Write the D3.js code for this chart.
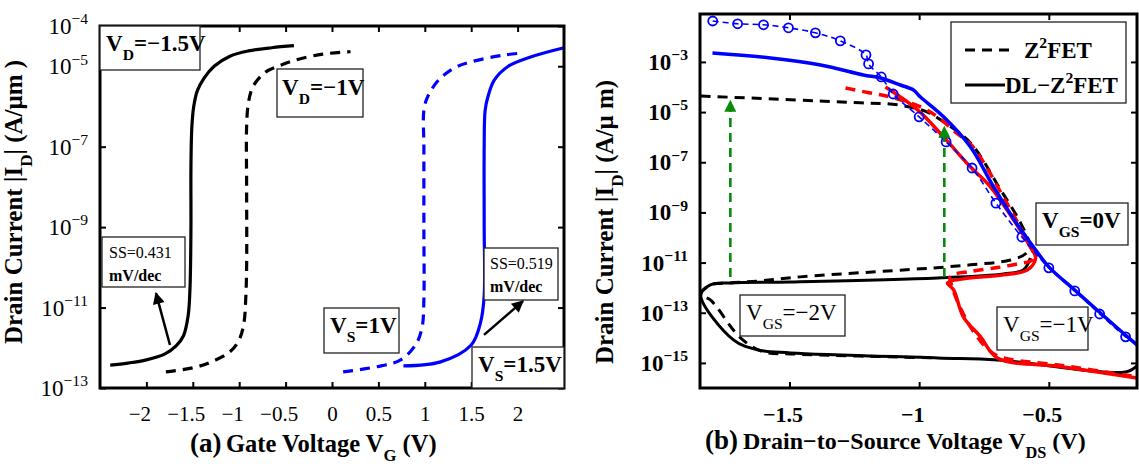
<!DOCTYPE html>
<html>
<head>
<meta charset="utf-8">
<script src="https://cdn.jsdelivr.net/npm/d3@7"></script>
<style>
  body { margin: 0; background: #fff; }
  svg text { font-family: "Liberation Serif", "Times New Roman", serif; fill: #000; }
</style>
</head>
<body>
<svg id="chart" width="1139" height="472"></svg>
<script>

// ---- panel (a) : transfer curves, [VG (V), log10 |ID| (A/um)] ----
var vgTicks = [-2, -1.5, -1, -0.5, 0, 0.5, 1, 1.5, 2];
var idExpA = [-13, -11, -9, -7, -5, -4];

var vd15 = [[-2.39,-12.43],[-2.2,-12.38],[-2.0,-12.3],[-1.8,-12.15],[-1.68,-11.95],[-1.6,-11.7],[-1.55,-11.2],
  [-1.53,-10.5],[-1.52,-9],[-1.52,-7.5],[-1.51,-6.5],[-1.49,-6.0],[-1.45,-5.6],[-1.38,-5.3],[-1.27,-5.0],
  [-1.1,-4.75],[-0.9,-4.62],[-0.65,-4.54],[-0.41,-4.49]];
var vd1 = [[-1.79,-12.6],[-1.5,-12.5],[-1.3,-12.35],[-1.1,-12.1],[-1.0,-11.8],[-0.95,-11.4],[-0.93,-10.8],
  [-0.92,-10],[-0.92,-8],[-0.92,-6.5],[-0.9,-5.9],[-0.85,-5.5],[-0.72,-5.15],[-0.58,-5.0],[-0.4,-4.85],
  [-0.1,-4.7],[0.2,-4.64]];
var vs1 = [[0.12,-12.6],[0.53,-12.45],[0.74,-12.3],[0.9,-11.93],[0.97,-11.5],[0.99,-10.8],[0.99,-9],
  [0.99,-7],[0.99,-6.1],[1.03,-5.76],[1.15,-5.34],[1.32,-5.04],[1.5,-4.89],[1.86,-4.72],[2.07,-4.67]];
var vs15 = [[0.77,-12.45],[1.17,-12.35],[1.5,-11.93],[1.6,-11.38],[1.64,-10.7],[1.64,-9],[1.64,-7],
  [1.65,-6.1],[1.68,-5.76],[1.75,-5.34],[1.9,-5.0],[2.14,-4.77],[2.5,-4.54]];

// ---- panel (b) : output curves, [VDS (V), log10 |ID| (A/um)] ----
var vdsTicks = [-1.5, -1, -0.5];
var idExpB = [-15, -13, -11, -9, -7, -5, -3];

var z2Gs0 = [[-1.796,-1.37],[-1.70,-1.48],[-1.60,-1.52],[-1.504,-1.64],[-1.40,-1.84],[-1.304,-2.16],
  [-1.205,-2.72],[-1.195,-3.08],[-1.146,-3.60],[-1.10,-4.28],[-1.0,-5.19],[-0.896,-6.19],[-0.796,-7.23],
  [-0.704,-8.63],[-0.604,-9.98],[-0.5,-11.21],[-0.40,-12.13],[-0.304,-13.05],[-0.204,-13.96]];
var dlGs0 = [[-1.797,-2.64],[-1.573,-2.84],[-1.38,-3.12],[-1.215,-3.52],[-1.149,-3.64],[-1.072,-3.92],
  [-1.022,-4.12],[-0.995,-4.40],[-0.906,-5.19],[-0.802,-6.39],[-0.713,-7.98],[-0.62,-9.5],[-0.559,-10.38],
  [-0.5,-11.17],[-0.4,-12.1],[-0.3,-13.02],[-0.2,-13.93],[-0.16,-14.28]];
var z2Gs1 = [[-1.284,-4.04],[-1.188,-4.24],[-1.11,-4.40],[-0.995,-4.79],[-0.929,-5.19],[-0.86,-5.8],
  [-0.80,-6.3],[-0.74,-7.2],[-0.68,-8.3],[-0.62,-9.4],[-0.58,-10.2],[-0.56,-10.6],[-0.565,-10.9],
  [-0.621,-11.05],[-0.698,-11.2],[-0.80,-11.35],[-0.88,-11.55],[-0.875,-11.9],[-0.85,-12.6],
  [-0.80,-13.6],[-0.74,-14.4],[-0.69,-14.75],[-0.45,-15.1],[-0.16,-15.55]];
var dlGs1 = [[-1.13,-4.0],[-1.006,-4.91],[-0.906,-5.99],[-0.802,-7.19],[-0.725,-7.98],[-0.571,-10.38],
  [-0.551,-10.82],[-0.582,-11.29],[-0.675,-11.49],[-0.829,-11.65],[-0.891,-11.81],[-0.867,-12.09],
  [-0.829,-13.17],[-0.763,-13.96],[-0.698,-14.80],[-0.443,-15.16],[-0.16,-15.6]];
var z2Gs2 = [[-1.842,-4.36],[-1.226,-4.63],[-1.083,-4.71],[-0.968,-5.0],[-0.906,-5.39],[-0.802,-6.23],
  [-0.686,-8.1],[-0.61,-9.4],[-0.575,-10.3],[-0.59,-10.65],[-0.648,-10.9],[-0.802,-11.09],
  [-0.995,-11.25],[-1.458,-11.57],[-1.612,-11.73],[-1.728,-11.81],[-1.805,-11.89],[-1.842,-12.29],
  [-1.805,-12.49],[-1.689,-14.0],[-1.6,-14.56],[-1.496,-14.64],[-0.93,-14.8]];
var dlGs2 = [[-0.571,-10.82],[-0.598,-11.29],[-0.675,-11.45],[-0.929,-11.61],[-1.496,-11.77],
  [-1.728,-11.81],[-1.805,-11.89],[-1.842,-12.29],[-1.716,-14.08],[-1.623,-14.48],[-1.496,-14.6],
  [-0.929,-14.8],[-0.698,-14.88],[-0.204,-15.36],[-0.16,-15.12]];
// green arrows: [VDS, log10 from, log10 to]
var jumps = [[-1.728,-11.57,-4.56],[-0.903,-11.57,-5.59]];

var svg = d3.select("#chart");
var F = "\u2212";

function fmt(d){ return (d < 0 ? F : "") + Math.abs(d); }
function p10(v){ return Math.pow(10, v); }

// text with sub/superscripts, parts: [text, kind] kind = 0 normal, 1 sub, 2 sup
function rich(g, x, y, parts, size, weight, anchor){
  var t = g.append("text").attr("x", x).attr("y", y)
    .style("font-size", size + "px").style("font-weight", weight || "normal")
    .attr("text-anchor", anchor || "start");
  var cur = 0;
  parts.forEach(function(p){
    var off = p[1] == 1 ? size * 0.38 : (p[1] == 2 ? -size * 0.42 : 0);
    var fs = p[1] ? size * 0.68 : size;
    t.append("tspan").attr("dy", off - cur).style("font-size", fs + "px").text(p[0]);
    cur = off;
  });
  return t;
}

function box(g, x0, y0, x1, y1){
  g.append("rect").attr("x", x0).attr("y", y0).attr("width", x1 - x0).attr("height", y1 - y0)
    .attr("fill", "#fff").attr("stroke", "#222").attr("stroke-width", 1.3);
}

var defs = svg.append("defs");
function head(id, color){
  defs.append("marker").attr("id", id).attr("viewBox", "0 0 10 10").attr("refX", 9).attr("refY", 5)
    .attr("markerWidth", 15).attr("markerHeight", 12).attr("markerUnits", "userSpaceOnUse")
    .attr("orient", "auto")
    .append("path").attr("d", "M0,0L10,5L0,10z").attr("fill", color);
}
head("ahB", "#000");
head("ahG", "#0a8a0a");

// shift minus-signed tick labels left, like the original
function tickText(g, size, weight){
  g.select(".domain").remove();
  g.selectAll("text").attr("y", 18).style("font-size", size + "px").style("font-weight", weight)
    .style("font-family", "Liberation Serif")
    .attr("dx", function(d){ return d < 0 ? -7 : 0; });
  g.selectAll("line").attr("stroke-width", 2);
}
function plain(g){ g.select(".domain").remove(); g.selectAll("line").attr("stroke-width", 2); }

// ================= panel (a) =================
var xA = d3.scaleLinear().domain([-2.5, 2.5]).range([100, 564]);
var yA = d3.scaleLog().domain([1e-13, 1e-4]).range([388, 26]);
var gA = svg.append("g");

var lineA = d3.line().x(function(d){ return xA(d[0]); }).y(function(d){ return yA(p10(d[1])); })
  .curve(d3.curveCatmullRom.alpha(0.5));

[[vd15, "#000", null], [vd1, "#000", "10,7"], [vs1, "#0000ff", "10,7"], [vs15, "#0000ff", null]]
  .forEach(function(s){
    gA.append("path").attr("d", lineA(s[0])).attr("fill", "none").attr("stroke", s[1])
      .attr("stroke-width", 3.2).attr("stroke-dasharray", s[2]);
  });

// axes (a)
gA.append("g").attr("transform", "translate(0,388)")
  .call(d3.axisBottom(xA).tickValues(vgTicks).tickSize(-6).tickSizeOuter(0).tickFormat(fmt))
  .call(tickText, 21, "normal");
gA.append("g").attr("transform", "translate(0,26)")
  .call(d3.axisTop(xA).tickValues(vgTicks).tickSize(-6).tickSizeOuter(0).tickFormat(""))
  .call(plain);
gA.append("g").attr("transform", "translate(100,0)")
  .call(d3.axisLeft(yA).tickValues(idExpA.map(p10)).tickSize(-6).tickSizeOuter(0).tickFormat(""))
  .call(plain);
gA.append("g").attr("transform", "translate(564,0)")
  .call(d3.axisRight(yA).tickValues(idExpA.map(p10)).tickSize(-6).tickSizeOuter(0).tickFormat(""))
  .call(plain);
idExpA.forEach(function(e){
  rich(gA, 88, yA(p10(e)) + 8, [["10", 0], [F + Math.abs(e), 2]], 23, "normal", "end");
});
gA.append("rect").attr("x", 100).attr("y", 26).attr("width", 464).attr("height", 362)
  .attr("fill", "none").attr("stroke", "#000").attr("stroke-width", 3);

// annotations (a)
box(gA, 100, 26, 200, 70);
rich(gA, 106, 51, [["V", 0], ["D", 1], ["=" + F + "1.5V", 0]], 23, "bold");
box(gA, 277, 69, 363, 117);
rich(gA, 282, 95, [["V", 0], ["D", 1], ["=" + F + "1V", 0]], 23, "bold");
box(gA, 102, 237, 185, 287);
rich(gA, 109, 258, [["SS=0.431", 0]], 16, "normal");
rich(gA, 109, 281, [["mV/dec", 0]], 16, "bold");
box(gA, 324, 308, 399, 353);
rich(gA, 330, 333, [["V", 0], ["S", 1], ["=1V", 0]], 23, "bold");
box(gA, 484, 248, 558, 300);
rich(gA, 490, 269, [["SS=0.519", 0]], 16, "normal");
rich(gA, 490, 292, [["mV/dec", 0]], 16, "bold");
box(gA, 472, 347, 564, 388);
rich(gA, 478, 372, [["V", 0], ["S", 1], ["=1.5V", 0]], 23, "bold");

[[-1.746,-11.93,-1.897,-10.64],[1.638,-11.68,2.058,-10.84]].forEach(function(a){
  gA.append("line").attr("x1", xA(a[0])).attr("y1", yA(p10(a[1])))
    .attr("x2", xA(a[2])).attr("y2", yA(p10(a[3])))
    .attr("stroke", "#000").attr("stroke-width", 2.5).attr("marker-end", "url(#ahB)");
});

rich(gA, 22, 202, [["Drain Current |I", 0], ["D", 1], ["| (A/\u03bcm )", 0]], 25, "bold", "middle")
  .attr("transform", "rotate(-90,22,202)");
rich(gA, 190, 452, [["(a)", 0]], 27, "bold");
rich(gA, 226, 452, [["Gate Voltage V", 0], ["G", 1], [" (V)", 0]], 24.5, "bold");

// ================= panel (b) =================
var xB = d3.scaleLinear().domain([-1.845, -0.16]).range([700, 1137]);
var yB = d3.scaleLog().domain([1e-16, p10(-1.09)]).range([388, 14]);
var gB = svg.append("g");

var lineB = d3.line().x(function(d){ return xB(d[0]); }).y(function(d){ return yB(p10(d[1])); })
  .curve(d3.curveCatmullRom.alpha(0.5));

var clipB = defs.append("clipPath").attr("id", "clipB");
clipB.append("rect").attr("x", 700).attr("y", 14).attr("width", 437).attr("height", 374);
var plotB = gB.append("g").attr("clip-path", "url(#clipB)");

[[z2Gs2, "#000", "10,7", 3], [dlGs2, "#000", null, 3], [z2Gs1, "#ff0000", "10,7", 3.5],
 [dlGs1, "#ff0000", null, 3.5], [dlGs0, "#0000ff", null, 3.5]].forEach(function(s){
  plotB.append("path").attr("d", lineB(s[0])).attr("fill", "none").attr("stroke", s[1])
    .attr("stroke-width", s[3]).attr("stroke-dasharray", s[2]);
});
var z2Line = z2Gs0.concat([[-0.16,-14.28]]);
plotB.append("path").attr("d", lineB(z2Line)).attr("fill", "none").attr("stroke", "#0000ff")
  .attr("stroke-width", 1.6).attr("stroke-dasharray", "6,4");
plotB.selectAll("circle.z2").data(z2Gs0).enter().append("circle")
  .attr("cx", function(d){ return xB(d[0]); }).attr("cy", function(d){ return yB(p10(d[1])); })
  .attr("r", 4.5).attr("fill", "none").attr("stroke", "#0000ff").attr("stroke-width", 1.8);

jumps.forEach(function(j){
  plotB.append("line").attr("x1", xB(j[0])).attr("x2", xB(j[0]))
    .attr("y1", yB(p10(j[1]))).attr("y2", yB(p10(j[2])))
    .attr("stroke", "#0a8a0a").attr("stroke-width", 2.6).attr("stroke-dasharray", "9,6")
    .attr("marker-end", "url(#ahG)");
});

// axes (b)
gB.append("g").attr("transform", "translate(0,388)")
  .call(d3.axisBottom(xB).tickValues(vdsTicks).tickSize(-6).tickSizeOuter(0).tickFormat(fmt))
  .call(tickText, 22, "bold");
gB.append("g").attr("transform", "translate(0,14)")
  .call(d3.axisTop(xB).tickValues(vdsTicks).tickSize(-6).tickSizeOuter(0).tickFormat(""))
  .call(plain);
gB.append("g").attr("transform", "translate(700,0)")
  .call(d3.axisLeft(yB).tickValues(idExpB.map(p10)).tickSize(-6).tickSizeOuter(0).tickFormat(""))
  .call(plain);
gB.append("g").attr("transform", "translate(1137,0)")
  .call(d3.axisRight(yB).tickValues(idExpB.map(p10)).tickSize(-6).tickSizeOuter(0).tickFormat(""))
  .call(plain);
idExpB.forEach(function(e){
  rich(gB, 688, yB(p10(e)) + 8, [["10", 0], [F + Math.abs(e), 2]], 23, "bold", "end");
});
gB.append("rect").attr("x", 700).attr("y", 14).attr("width", 437).attr("height", 374)
  .attr("fill", "none").attr("stroke", "#000").attr("stroke-width", 3);

// legend
box(gB, 951, 22, 1126, 103);
gB.append("line").attr("x1", 965).attr("x2", 1012).attr("y1", 50).attr("y2", 50)
  .attr("stroke", "#000").attr("stroke-width", 3).attr("stroke-dasharray", "10,7");
rich(gB, 1024, 58, [["Z", 0], ["2", 2], ["FET", 0]], 23, "bold");
gB.append("line").attr("x1", 965).attr("x2", 1005).attr("y1", 85).attr("y2", 85)
  .attr("stroke", "#000").attr("stroke-width", 3);
rich(gB, 1005, 93, [["DL" + F + "Z", 0], ["2", 2], ["FET", 0]], 23, "bold");

// VGS labels
box(gB, 1036, 203, 1128, 245);
rich(gB, 1042, 228, [["V", 0], ["GS", 1], ["=0V", 0]], 23, "bold");
box(gB, 740, 295, 845, 336);
rich(gB, 746, 320, [["V", 0], ["GS", 1], ["=" + F + "2V", 0]], 23, "normal");
box(gB, 997, 307, 1088, 350);
rich(gB, 1003, 332, [["V", 0], ["GS", 1], ["=" + F + "1V", 0]], 23, "normal");

rich(gB, 613, 222, [["Drain Current |I", 0], ["D", 1], ["| (A/\u03bc m)", 0]], 25, "bold", "middle")
  .attr("transform", "rotate(-90,613,222)");
rich(gB, 705, 449, [["(b)", 0]], 27, "bold");
rich(gB, 743, 449, [["Drain" + F + "to" + F + "Source Voltage V", 0], ["DS", 1], [" (V)", 0]], 24, "bold");

</script>
</body>
</html>
